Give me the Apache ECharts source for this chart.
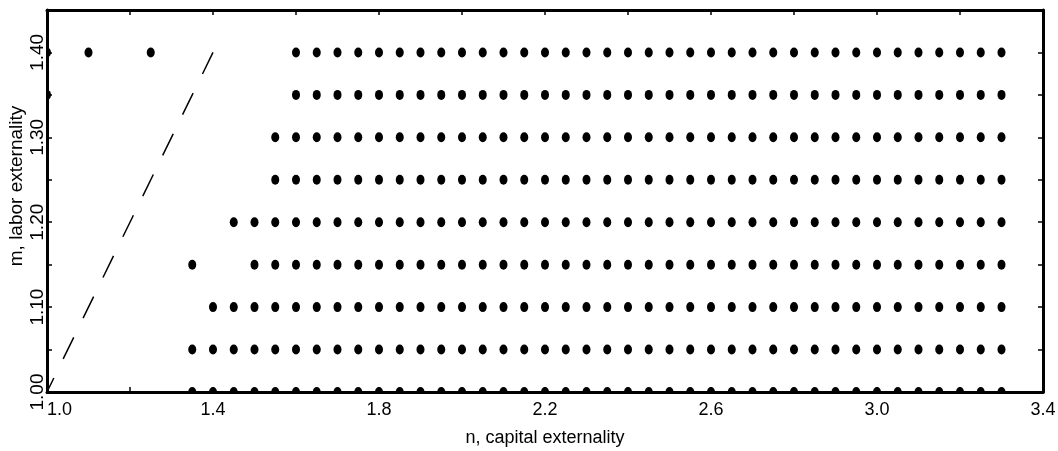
<!DOCTYPE html>
<html><head><meta charset="utf-8">
<script src="https://cdn.jsdelivr.net/npm/echarts@6/dist/echarts.min.js"></script>
<style>html,body{margin:0;padding:0;background:#fff}#c{width:1058px;height:451px}</style>
</head><body><div id="c"></div>
<script>
// Candidate n values (capital externality) used in the grid search
const nGrid = [1.00,1.05,1.10,1.15,1.20,1.25,1.30,1.35,1.40,1.45,1.50,1.55,1.60,1.65,1.70,1.75,1.80,1.85,1.90,1.95,
  2.00,2.05,2.10,2.15,2.20,2.25,2.30,2.35,2.40,2.45,2.50,2.55,2.60,2.65,2.70,2.75,2.80,2.85,2.90,2.95,
  3.00,3.05,3.10,3.15,3.20,3.25,3.30];
// m values (labor externality), one row of dots each
const mLevels = [1.00,1.05,1.10,1.15,1.20,1.25,1.30,1.35,1.40];
// first n of the continuous run of dots in each row (run continues to the end of nGrid)
const runStart = [1.35,1.35,1.40,1.50,1.45,1.55,1.55,1.60,1.60];
// isolated dots [n, m]
const isolatedPoints = [[1.35,1.15],[1.00,1.35],[1.00,1.40],[1.10,1.40],[1.25,1.40]];
// dashed diagonal m = n
const diagonal = [[1.40,1.40],[1.00,1.00]];
const xTickLabels = ['1.0','1.4','1.8','2.2','2.6','3.0','3.4'];
const yTickLabels = ['1.00','1.10','1.20','1.30','1.40'];

const dots = [];
mLevels.forEach((m, i) => {
  nGrid.forEach(n => { if (n >= runStart[i] - 1e-9) dots.push([n, m]); });
});
isolatedPoints.forEach(p => dots.push(p));

const FONT = 'Liberation Sans';
const axisLine = {show: true, onZero: false, lineStyle: {color: '#000', width: 3}};
const tick = {show: true, inside: true, length: 5, lineStyle: {color: '#000', width: 1.5}};

const chart = echarts.init(document.getElementById('c'), null, {renderer: 'canvas'});
chart.setOption({
  animation: false,
  backgroundColor: '#fff',
  grid: {left: 47, right: 15, top: 10, bottom: 59, containLabel: false, outerBoundsMode: 'none'},
  xAxis: [{
    type: 'value', min: 1.0, max: 3.4, interval: 0.2, position: 'bottom',
    name: 'n, capital externality', nameLocation: 'middle', nameGap: 37, nameMoveOverlap: false,
    nameTextStyle: {fontFamily: FONT, fontSize: 18, color: '#000'},
    axisLine, axisTick: tick, splitLine: {show: false},
    axisLabel: {
      color: '#000', fontFamily: FONT, fontSize: 18, margin: 9, alignMinLabel: 'left',
      formatter: v => { const s = v.toFixed(1); return xTickLabels.includes(s) ? s : ''; }
    }
  }, {
    type: 'value', min: 1.0, max: 3.4, interval: 0.2, position: 'top',
    axisLine, axisTick: tick, axisLabel: {show: false}, splitLine: {show: false}
  }],
  yAxis: [{
    type: 'value', min: 1.0, max: 1.45, interval: 0.05, position: 'left',
    name: 'm, labor externality', nameLocation: 'middle', nameGap: 21, nameMoveOverlap: false,
    nameTextStyle: {fontFamily: FONT, fontSize: 19, color: '#000', lineHeight: 19, padding: [0, 0, 0, 30]},
    axisLine, axisTick: tick, splitLine: {show: false},
    axisLabel: {
      color: '#000', fontFamily: FONT, fontSize: 19, lineHeight: 19, rotate: 90, margin: 0,
      formatter: v => { const s = v.toFixed(2); return yTickLabels.includes(s) ? s : ''; }
    }
  }, {
    type: 'value', min: 1.0, max: 1.45, interval: 0.05, position: 'right',
    axisLine, axisTick: tick, axisLabel: {show: false}, splitLine: {show: false}
  }],
  series: [{
    type: 'custom',
    clip: true,
    data: dots,
    renderItem: (params, api) => {
      const p = api.coord([api.value(0), api.value(1)]);
      return {
        type: 'circle', x: p[0], y: p[1], scaleY: 1.25,
        shape: {cx: 0, cy: 0, r: 4},
        style: {fill: '#000'}
      };
    }
  }, {
    type: 'line',
    data: diagonal,
    symbol: 'none',
    lineStyle: {color: '#000', width: 1.5, type: [24, 21.3]},
    z: 3
  }]
});
</script>
</body></html>
